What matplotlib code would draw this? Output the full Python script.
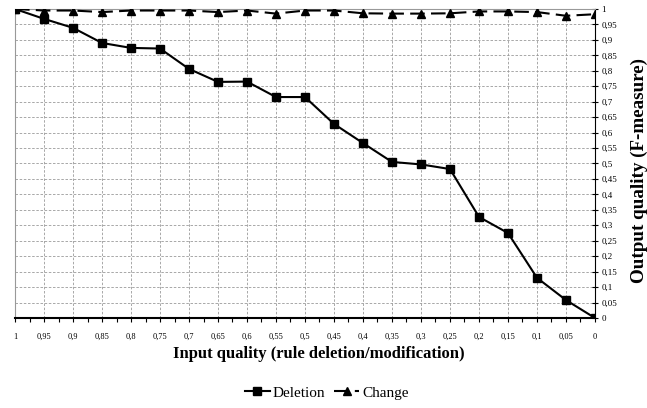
import matplotlib
matplotlib.use("Agg")
import matplotlib.pyplot as plt
from matplotlib.ticker import FixedLocator

plt.rcParams['font.family'] = ['Liberation Serif', 'DejaVu Serif']

# === Data ===
input_quality = ["1", "0,95", "0,9", "0,85", "0,8", "0,75", "0,7", "0,65", "0,6", "0,55", "0,5",
                 "0,45", "0,4", "0,35", "0,3", "0,25", "0,2", "0,15", "0,1", "0,05", "0"]
deletion = [1.0, 0.968, 0.939, 0.89, 0.874, 0.872, 0.806, 0.764, 0.765, 0.715, 0.715,
            0.628, 0.566, 0.505, 0.497, 0.482, 0.327, 0.275, 0.13, 0.058, 0.0]
change = [1.0, 0.995, 0.995, 0.99, 0.995, 0.995, 0.995, 0.99, 0.995, 0.985, 0.995,
          0.995, 0.986, 0.985, 0.985, 0.986, 0.992, 0.992, 0.99, 0.978, 0.983]

y_ticks = [i * 0.05 for i in range(21)]
y_labels = ["0", "0,05", "0,1", "0,15", "0,2", "0,25", "0,3", "0,35", "0,4", "0,45", "0,5",
            "0,55", "0,6", "0,65", "0,7", "0,75", "0,8", "0,85", "0,9", "0,95", "1"]

fig = plt.figure(figsize=(6.47, 4.08), dpi=100)
ax = fig.add_axes([0.0232, 0.2206, 0.8964, 0.7574])

xs = list(range(len(input_quality)))

ax.plot(xs, deletion, color="black", marker="s", markersize=5.5, linewidth=1.5,
        linestyle="-", label="Deletion", zorder=3)
ax.plot(xs, change, color="black", marker="^", markersize=5.5, linewidth=1.5,
        linestyle=(0, (7, 3)), label="Change", zorder=3)

# === Axes ===
ax.set_xlim(0, len(xs) - 1)
ax.set_ylim(0, 1)
ax.set_xticks(xs)
ax.set_xticklabels(input_quality, fontsize=6)
ax.xaxis.set_minor_locator(FixedLocator([x + 0.5 for x in xs[:-1]]))
ax.tick_params(axis="x", which="both", direction="out", length=3, width=0.8, pad=8)

ax.yaxis.tick_right()
ax.yaxis.set_label_position("right")
ax.set_yticks(y_ticks)
ax.set_yticklabels(y_labels, fontsize=6.5)
ax.tick_params(axis="y", direction="inout", length=5, width=0.8, pad=2)

ax.grid(True, color="#9a9a9a", linestyle=(0, (3, 2)), linewidth=0.6)
ax.set_axisbelow(True)

ax.spines["left"].set_color("#999999")
ax.spines["top"].set_color("#999999")
ax.spines["right"].set_color("black")
ax.spines["bottom"].set_color("black")
ax.spines["bottom"].set_linewidth(1.5)

ax.set_xlabel("Input quality (rule deletion/modification)", fontsize=12, fontweight="bold")
ax.xaxis.set_label_coords(0.524, -0.092)
ax.set_ylabel("Output quality (F-measure)", fontsize=13.7, fontweight="bold")
ax.yaxis.set_label_coords(1.062, 0.476)

fig.legend(loc="center", bbox_to_anchor=(0.505, 0.037), ncol=2, frameon=False,
           fontsize=11, handlelength=1.6, handletextpad=0.2, columnspacing=0.6)

plt.savefig("out.png", dpi=100)
plt.close()
